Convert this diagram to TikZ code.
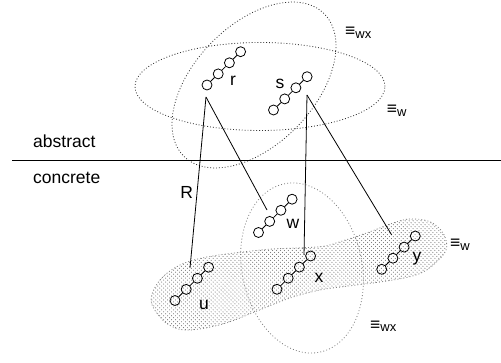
\documentclass[tikz,border=0pt]{standalone}
\usepackage{fontspec}
\setmainfont{Liberation Sans}
\usetikzlibrary{patterns.meta}
\tikzset{
  ring/.style={circle,draw,line width=0.8pt,minimum size=10pt,inner sep=0pt},
  link/.style={line width=0.8pt},
  conn/.style={line width=0.8pt},
  dotA/.style={draw=black!80,line width=0.8pt,dash pattern=on 0.9pt off 2pt},
  dotB/.style={draw=black!50,line width=0.8pt,dash pattern=on 0.9pt off 2.2pt},
  lbl/.style={font=\fontsize{17.5}{20}\selectfont,inner sep=0pt,anchor=base},
  eqlbl/.style={font=\fontsize{17.5}{20}\selectfont,inner sep=0pt,anchor=base west},
}
\newcommand\eqsub[1]{≡\raisebox{-1.5pt}{\fontsize{13}{13}\selectfont #1}}
\newcommand\chain[3]{%
  \foreach \i in {0,1,2,3}{\node[ring] (#1\i) at ({#2+\i*11.2},{#3+\i*11.1}) {};}
  \draw[link] (#10)--(#11) (#11)--(#12) (#12)--(#13);}
\begin{document}
\begin{tikzpicture}[x=1pt,y=1pt]
\useasboundingbox (0,0) rectangle (501,362);
% bottom hatched blob
\path[dotB,pattern={Lines[angle=-45,distance=2.8pt,line width=0.7pt]},pattern color=black!55]
  plot[smooth cycle,tension=0.6] coordinates {
  (151,62) (160,82) (180,97) (207,105) (243,110) (273,113) (320,115.3) (340,120.3)
  (370,130.3) (393,139) (410,143) (430,140.3) (443,129) (446.7,115.3) (441.7,105.3)
  (426.7,92) (410,85.3) (380,80) (343,75.3) (320,72) (290,64) (257,51) (223,38)
  (190,32) (173,35) (160,45)};
% bottom wx ellipse
\draw[dotB,rotate around={12:(302,94)}] (302,94) ellipse [x radius=60,y radius=86];
% top ellipses
\draw[dotA] (260,275.5) ellipse [x radius=125,y radius=44];
\draw[dotA,rotate around={45.7:(254,277)}] (254,277) ellipse [x radius=100,y radius=60];
% divider
\coordinate (lineL) at (12,201.3);
\coordinate (lineR) at (501,201.3);
\draw[line width=0.8pt] (lineL) -- (lineR);
\node[anchor=base west,inner sep=0pt,font=\fontsize{17.5}{20}\selectfont] (abs) at (33,214.7) {abstract};
\node[anchor=base west,inner sep=0pt,font=\fontsize{17.5}{20}\selectfont] (con) at (33,178.7) {concrete};
% chains
\chain{r}{207}{277}
\chain{s}{273.5}{252}
\chain{w}{258.5}{129.5}
\chain{u}{175}{61.5}
\chain{x}{277}{72.7}
\chain{y}{381.7}{92.7}
% labels
\node[lbl] (rl) at (233,276) {r};
\node[lbl] (sl) at (280,273.7) {s};
\node[lbl] (wl) at (293,133.7) {w};
\node[lbl] (ul) at (204,52.7) {u};
\node[lbl] (xl) at (319,79.3) {x};
\node[lbl] (yl) at (417,101) {y};
\node[lbl] (Rl) at (186.7,163.7) {R};
\node[eqlbl] (e1) at (345,325) {\eqsub{wx}};
\node[eqlbl] (e2) at (386.7,247) {\eqsub{w}};
\node[eqlbl] (e3) at (450,113.3) {\eqsub{w}};
\node[eqlbl] (e4) at (370,32) {\eqsub{wx}};
% connectors
\coordinate (rS) at (206,265);
\coordinate (sS) at (307,267);
\coordinate (uE) at (190,94);
\coordinate (wE) at (267,152);
\coordinate (xE) at (304,107);
\coordinate (yE) at (391.7,127);
\draw[conn] (rS) -- (uE);
\draw[conn] (rS) -- (wE);
\draw[conn] (sS) -- (xE);
\draw[conn] (sS) -- (yE);
\end{tikzpicture}
\end{document}
